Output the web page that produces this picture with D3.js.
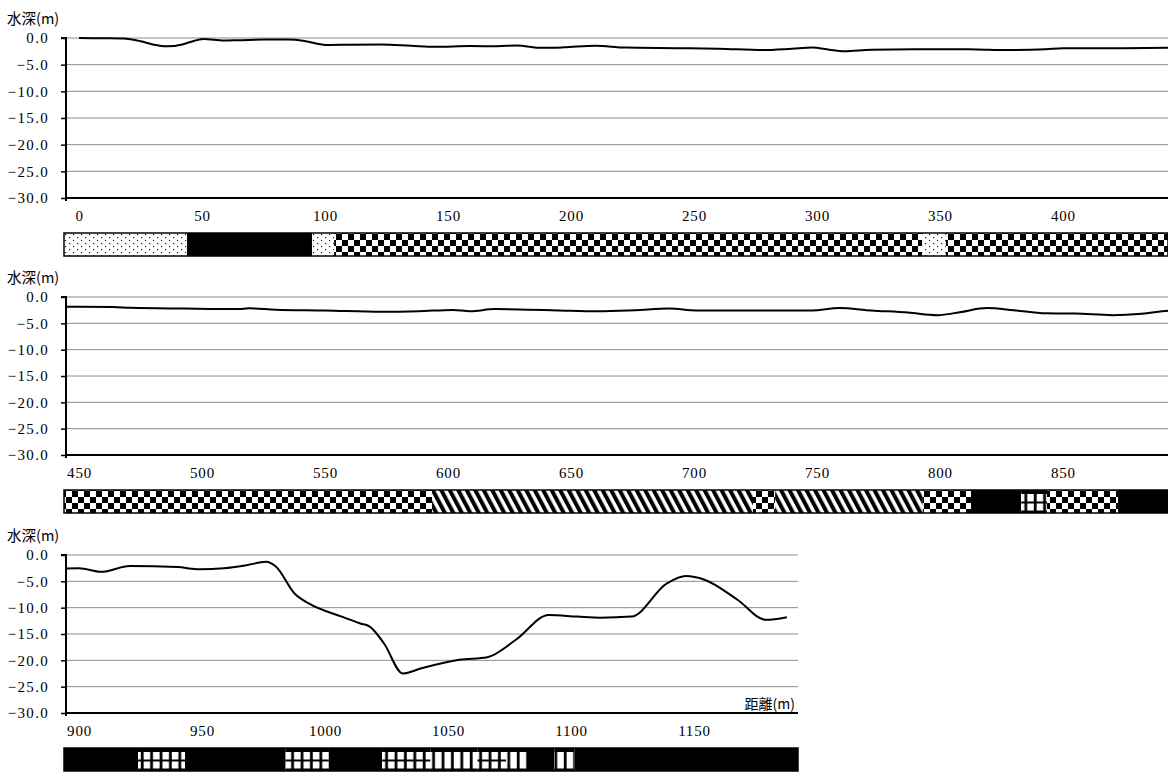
<!DOCTYPE html>
<html><head><meta charset="utf-8">
<script src="https://cdn.jsdelivr.net/npm/d3@7"></script>
<style>body{margin:0;background:#fff} svg{display:block}
.num{font-family:"Liberation Serif","DejaVu Serif",serif !important;}
</style>
</head><body>
<svg id="c" width="1168" height="772"></svg>
<script>
// ---- profile data (distance m, depth m) ----
const distance = [0,10,18,25,30,36,42,47,51,55,58,65,75,85,91,96,101,110,123,135,145,159,170,178,188,197,210,222,243,260,278,290,298,305,311,322,340,353,365,377,393,400,424,443,
  450,464,471,493,515,519,530,550,573,588,602,609,619,632,645,661,676,690,701,720,748,759,772,787,799,808,819,830,843,855,870,882,893,
  900,909,920.6,940,949,959,968.5,976,980,987.6,993.4,1006.8,1014.4,1018.2,1024,1031.6,1039.3,1054.6,1066,1077.6,1091,1102.6,1112,1124.6,1139,1146.7,1154.3,1167.7,1179.2,1187.8];
const depth = [0,-0.05,-0.1,-0.6,-1.2,-1.55,-1.2,-0.5,-0.2,-0.35,-0.45,-0.4,-0.3,-0.3,-0.5,-1.0,-1.3,-1.25,-1.2,-1.45,-1.65,-1.5,-1.55,-1.4,-1.85,-1.75,-1.45,-1.8,-1.9,-2.0,-2.25,-2.0,-1.8,-2.2,-2.5,-2.2,-2.1,-2.1,-2.15,-2.25,-2.1,-1.9,-1.9,-1.85,
  -1.85,-1.9,-2.05,-2.2,-2.3,-2.15,-2.4,-2.55,-2.8,-2.7,-2.45,-2.7,-2.3,-2.4,-2.55,-2.7,-2.5,-2.2,-2.55,-2.55,-2.55,-2.1,-2.55,-2.95,-3.45,-2.9,-2.1,-2.5,-3.1,-3.15,-3.45,-3.2,-2.6,
  -2.5,-3.2,-2.1,-2.3,-2.7,-2.5,-1.9,-1.3,-2.2,-7.3,-9.2,-11.7,-13.0,-13.6,-16.8,-22.5,-21.5,-19.9,-19.4,-16.1,-11.4,-11.7,-11.9,-11.7,-5.4,-4.0,-4.7,-8.5,-12.3,-11.8];

// ---- tick labels ----
const yTicks = [0,-5,-10,-15,-20,-25,-30];
const xTicks1 = [0,50,100,150,200,250,300,350,400];
const xTicks2 = [450,500,550,600,650,700,750,800,850];
const xTicks3 = [900,950,1000,1050,1100,1150];

// ---- sediment strip segments (distance m) ----
const segStart = [-6,43.9,94.7,103.7,342.7,352.4, 593.5,724,733,793,812.6,833,843.5,872.4, 924,943.1,984,1001.6,1023.2,1042.9,1062,1073.6,1082.1,1093.3,1101.4];
const segEnd   = [43.9,94.7,103.7,342.7,352.4,593.5, 724,733,793,812.6,833,843.5,872.4,924, 943.1,984,1001.6,1023.2,1042.9,1062,1073.6,1082.1,1093.3,1101.4,1200];
const segType  = ["sand","black","sand","checker","sand","checker", "hatch","checker","hatch","checker","black","grid","checker","black", "grid","black","grid","black","grid","bars","grid","bars","black","bars","black"];

const svg = d3.select("#c");
const defs = svg.append("defs");
const CJK = "'Noto Sans CJK JP',sans-serif";

const panels = [
  {d0:-5.3, d1:442.7, left:66, right:1168, top:38, bottom:198, ticks:xTicks1},
  {d0:444.7, d1:892.7, left:66, right:1168, top:297, bottom:455, ticks:xTicks2},
  {d0:894.7, d1:1192.3, left:66, right:798, top:555, bottom:713, ticks:xTicks3, xlabel:true}
];

const data = distance.map((d,i)=>({d, v:depth[i]}));

panels.forEach((p,pi)=>{
  const x = d3.scaleLinear().domain([p.d0,p.d1]).range([p.left,p.right]);
  const y = d3.scaleLinear().domain([-30,0]).range([p.bottom,p.top]);
  const g = svg.append("g");

  g.append("text").attr("x",7).attr("y",p.top-14).style("font-family",CJK).attr("font-size",14.5)
    .attr("fill","#000").text("水深(m)");

  g.selectAll(".grid").data(yTicks.filter(t=>t>-30)).enter().append("line")
    .attr("x1",p.left).attr("x2",p.right).attr("y1",d=>y(d)).attr("y2",d=>y(d))
    .attr("stroke","#8c8c8c").attr("stroke-width",1);

  const ya = d3.axisLeft(y).tickValues(yTicks).tickSize(5).tickFormat(d3.format(".1f"));
  const yg = g.append("g").attr("transform",`translate(${p.left},0)`).call(ya);
  yg.attr("font-family",null);
  yg.select(".domain").attr("stroke","#000").attr("stroke-width",2).attr("d",`M-5,${y(0)}H0V${p.bottom+3}`);
  yg.selectAll(".tick line").attr("stroke","#000").attr("stroke-width",1.5);
  yg.selectAll(".tick text").attr("class","num").attr("x",-17).attr("font-size",15)
    .attr("letter-spacing","1.3px").attr("fill","#000");

  const xa = d3.axisBottom(x).tickValues(p.ticks).tickSize(0).tickPadding(12).tickFormat(d3.format("d"));
  const xg = g.append("g").attr("transform",`translate(0,${p.bottom})`).call(xa);
  xg.attr("font-family",null);
  xg.select(".domain").attr("stroke","#000").attr("stroke-width",2).attr("d",`M${p.left},0H${p.right}`);
  xg.selectAll(".tick text").attr("class","num").attr("font-size",15).attr("letter-spacing","0.8px").attr("fill","#000");

  if(p.xlabel){
    g.append("text").attr("x",p.right-3).attr("y",p.bottom-4).attr("text-anchor","end")
      .style("font-family",CJK).attr("font-size",14).attr("fill","#000").text("距離(m)");
  }

  defs.append("clipPath").attr("id","clip"+pi).append("rect")
    .attr("x",p.left).attr("y",p.top-10).attr("width",p.right-p.left).attr("height",p.bottom-p.top+10);
  const line = d3.line().x(d=>x(d.d)).y(d=>y(d.v)).curve(d3.curveMonotoneX);
  const pd = data.filter(d=>d.d>=p.d0-20 && d.d<=p.d1+20);
  g.append("path").attr("clip-path",`url(#clip${pi})`).attr("d",line(pd))
    .attr("fill","none").attr("stroke","#000").attr("stroke-width",2);

  const by = p.bottom+35, bh = 23;
  const sand = defs.append("pattern").attr("id","sand"+pi).attr("patternUnits","userSpaceOnUse")
    .attr("width",8).attr("height",6).attr("y",by);
  sand.append("rect").attr("width",8).attr("height",6).attr("fill","#fff");
  sand.append("rect").attr("x",1).attr("y",1).attr("width",1.2).attr("height",1.2).attr("fill","#222");
  sand.append("rect").attr("x",5).attr("y",4).attr("width",1.2).attr("height",1.2).attr("fill","#222");

  const ch = defs.append("pattern").attr("id","checker"+pi).attr("patternUnits","userSpaceOnUse")
    .attr("width",12).attr("height",12).attr("y",by+1);
  ch.append("rect").attr("width",12).attr("height",12).attr("fill","#fff");
  ch.append("rect").attr("width",6).attr("height",6).attr("fill","#000");
  ch.append("rect").attr("x",6).attr("y",6).attr("width",6).attr("height",6).attr("fill","#000");

  const ht = defs.append("pattern").attr("id","hatch"+pi).attr("patternUnits","userSpaceOnUse")
    .attr("width",7.5).attr("height",10).attr("patternTransform","rotate(-28)");
  ht.append("rect").attr("width",7.5).attr("height",10).attr("fill","#fff");
  ht.append("rect").attr("width",4).attr("height",10).attr("fill","#000");

  const gr = defs.append("pattern").attr("id","grid"+pi).attr("patternUnits","userSpaceOnUse")
    .attr("width",9.4).attr("height",bh).attr("y",by);
  gr.append("rect").attr("width",9.4).attr("height",bh).attr("fill","#000");
  gr.append("rect").attr("x",2.6).attr("y",4).attr("width",6.6).attr("height",7.5).attr("fill","#fff");
  gr.append("rect").attr("x",2.6).attr("y",13.5).attr("width",6.6).attr("height",7).attr("fill","#fff");

  const bs = defs.append("pattern").attr("id","bars"+pi).attr("patternUnits","userSpaceOnUse")
    .attr("width",9.4).attr("height",bh).attr("y",by);
  bs.append("rect").attr("width",9.4).attr("height",bh).attr("fill","#000");
  bs.append("rect").attr("x",2.6).attr("y",4).attr("width",6.6).attr("height",16.5).attr("fill","#fff");

  const segs = segStart.map((s,i)=>({s, e:segEnd[i], t:segType[i]}))
    .filter(s=>s.e>p.d0 && s.s<p.d1);
  const sg = g.append("g");
  sg.selectAll("rect").data(segs).enter().append("rect")
    .attr("x",d=>Math.max(x(d.s),p.left-2)).attr("y",by)
    .attr("width",d=>Math.min(x(d.e),p.right)-Math.max(x(d.s),p.left-2)).attr("height",bh)
    .attr("fill",d=>d.t==="black"?"#000":`url(#${d.t}${pi})`);
  g.append("rect").attr("x",p.left-2).attr("y",by).attr("width",p.right-p.left+2).attr("height",bh)
    .attr("fill","none").attr("stroke","#000").attr("stroke-width",1.5);
});
</script>
</body></html>
